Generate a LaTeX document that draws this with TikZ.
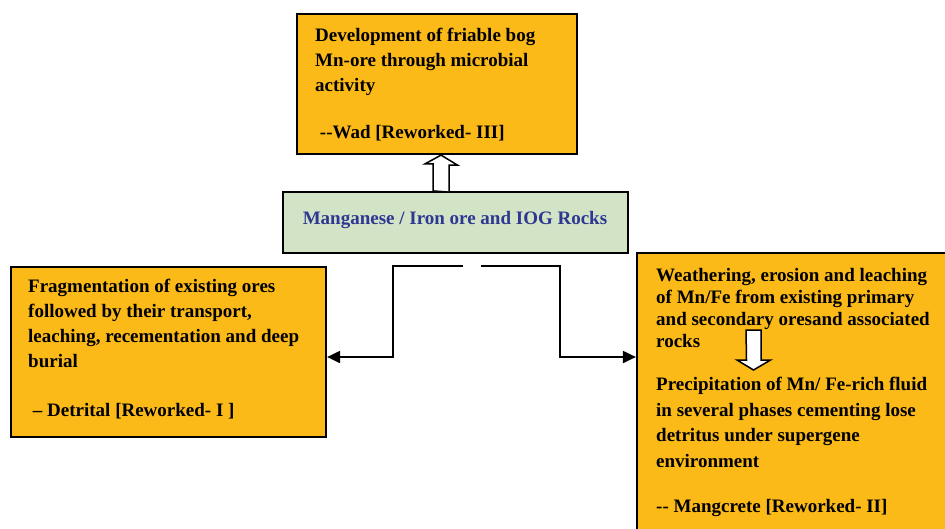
\documentclass[tikz,border=0pt]{standalone}
\usepackage{fontspec}
\setmainfont{Liberation Serif}
\usetikzlibrary{arrows.meta,calc}
\definecolor{boxorange}{RGB}{251,186,24}
\definecolor{boxgreen}{RGB}{211,228,198}
\definecolor{textblue}{RGB}{46,56,146}
\tikzset{
  orbox/.style={draw=black, line width=2.2pt, fill=boxorange, rectangle, inner sep=0pt},
  bodytext/.style={font=\bfseries\fontsize{19}{25}\selectfont, align=left, inner sep=0pt, anchor=north west},
  conn/.style={line width=2pt, -{Triangle[length=13pt,width=12pt]}},
  hollow/.style={draw=black, line width=1.5pt, fill=white},
}
\begin{document}
\begin{tikzpicture}[x=1pt,y=-1pt]
\useasboundingbox (0,0) rectangle (945,528);
\clip (0,0) rectangle (945,528);
% top box
\node[orbox, minimum width=280pt, minimum height=140pt] (top) at (437,84) {};
\node[bodytext] (toptext) at (315,27.6) {Development of friable bog\\Mn-ore through microbial\\activity\\[22pt]\ -{}-Wad [Reworked- III]};
% middle box
\node[draw=black, line width=2.2pt, fill=boxgreen, minimum width=345pt, minimum height=61pt, inner sep=0pt] (mid) at (455.5,222.5) {};
\node[font=\bfseries\fontsize{19}{22}\selectfont, text=textblue, inner sep=0pt] (midtext) at (455,219.5) {Manganese / Iron ore and IOG Rocks};
% left box
\node[orbox, minimum width=315pt, minimum height=170pt] (left) at (168.5,352) {};
\node[bodytext] (lefttext) at (28,278.6) {Fragmentation of existing ores\\followed by their transport,\\leaching, recementation and deep\\burial\\[24pt]\ -- Detrital [Reworked- I ]};
% right box (extends beyond the page)
\node[orbox, minimum width=400pt, minimum height=400pt] (right) at (837,453) {};
\node[bodytext, font=\bfseries\fontsize{19}{21.8}\selectfont] (righttext1) at (656,268.6) {Weathering, erosion and leaching\\of Mn/Fe from existing primary\\and secondary oresand associated\\rocks};
\node[bodytext, font=\bfseries\fontsize{19}{25.7}\selectfont] (righttext2) at (656,377) {Precipitation of Mn/ Fe-rich fluid\\in several phases cementing lose\\detritus under supergene\\environment\\[19pt]-{}- Mangcrete [Reworked- II]};
% hollow arrow up from mid to top
\draw[hollow] ($(mid.north)+(-22.5,0)$) -- ++(0,-27) -- ++(-8,0) -- ($(top.south)+(4,0)$) -- ++(16.5,10) -- ++(-8.5,0) -- ++(0,27) -- cycle;
% hollow arrow down inside right box
\coordinate (dtip) at (753.5,370);
\draw[hollow] ($(dtip)+(-7.5,-40)$) -- ++(15,0) -- ++(0,30) -- ++(9.5,0) -- (dtip) -- ++(-16.5,-10) -- ++(9.5,0) -- cycle;
% connectors
\coordinate (cL) at (463,266);
\coordinate (cLd) at (393,357);
\coordinate (cR) at (481,266);
\coordinate (cRd) at (560,357);
\draw[conn] (cL) -| (cLd) -- (left.east |- cLd);
\draw[conn] (cR) -| (cRd) -- (right.west |- cRd);
\end{tikzpicture}
\end{document}
